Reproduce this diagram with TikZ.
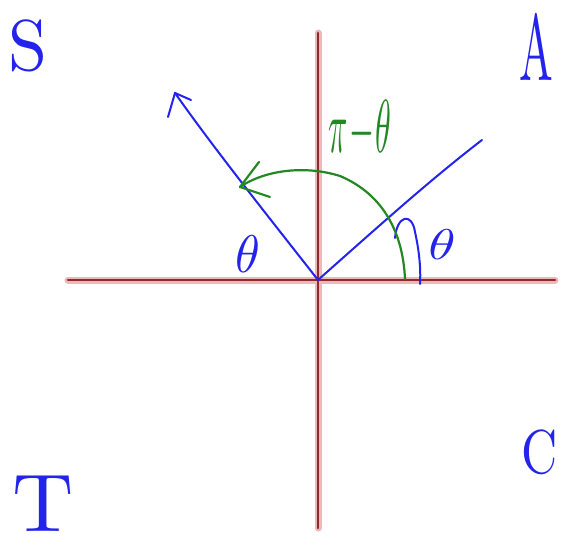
\documentclass[tikz,border=0pt]{standalone}
\usepackage{graphicx}
\usetikzlibrary{calc}
\definecolor{inkblue}{RGB}{35,35,235}
\definecolor{inkgreen}{RGB}{35,135,35}
\definecolor{axisred}{RGB}{145,40,45}
\definecolor{axisglow}{RGB}{235,185,185}
\tikzset{
  axisglowline/.style={draw=axisglow,line width=7pt,line cap=round},
  axisline/.style={draw=axisred,line width=2.8pt,line cap=round},
  bluepen/.style={draw=inkblue,line width=2pt,line cap=round,line join=round},
  greenpen/.style={draw=inkgreen,line width=2.2pt,line cap=round,line join=round},
  inklabel/.style={text=inkblue,inner sep=0pt},
}
\begin{document}
\begin{tikzpicture}[x=1pt,y=-1pt]
\useasboundingbox (0,0) rectangle (565,548);
% axes
\coordinate (xl) at (68,280);
\coordinate (xr) at (555,280);
\coordinate (yt) at (318,33);
\coordinate (yb) at (318,528);
\coordinate (O) at (318,280);
\draw[axisglowline] (xl) -- (xr);
\draw[axisglowline] (yt) -- (yb);
\draw[axisline] (xl) -- (xr);
\draw[axisline] (yt) -- (yb);
% blue rays
\coordinate (R1) at (482,140);
\coordinate (L1) at (175,93);
\draw[bluepen] (O) .. controls (380,225) and (430,180) .. (R1);
\draw[bluepen] (O) .. controls (275,225) and (215,150) .. (L1);
\coordinate (La) at (168,117);
\coordinate (Lb) at (191,100);
\draw[bluepen] (La) -- (L1) -- (Lb);
% small blue angle arc on the right
\coordinate (s1) at (395,238);
\coordinate (s2) at (420,284);
\draw[bluepen] (s1) .. controls (397,215) and (412,212) .. (415,232) .. controls (419,250) and (421,268) .. (s2);
% green arc with arrow
\coordinate (g0) at (405,279);
\coordinate (g1) at (240,187);
\draw[greenpen] (g0) .. controls (403,235) and (385,195) .. (340,176) .. controls (305,165) and (265,170) .. (g1);
\coordinate (ga) at (259,162);
\coordinate (gb) at (270,197);
\draw[greenpen] (ga) -- (g1) -- (gb);
% labels
\node[inklabel,text=inkgreen] (pt) at (360,130) {\scalebox{3.2}[7.5]{$\pi\mkern-3mu-\mkern-3mu\theta$}};
\node[inklabel] (thL) at (248,254) {\scalebox{5}[5.3]{$\theta$}};
\node[inklabel] (thR) at (442,245) {\scalebox{5.5}[4.3]{$\theta$}};
\node[inklabel] (S) at (28,46) {\scalebox{7}[7.2]{S}};
\node[inklabel] (A) at (536,47) {\scalebox{4.5}[9.4]{A}};
\node[inklabel] (T) at (43,504) {\scalebox{8.5}[8.2]{T}};
\node[inklabel] (C) at (540,452) {\scalebox{5}[6.2]{C}};
\end{tikzpicture}
\end{document}
